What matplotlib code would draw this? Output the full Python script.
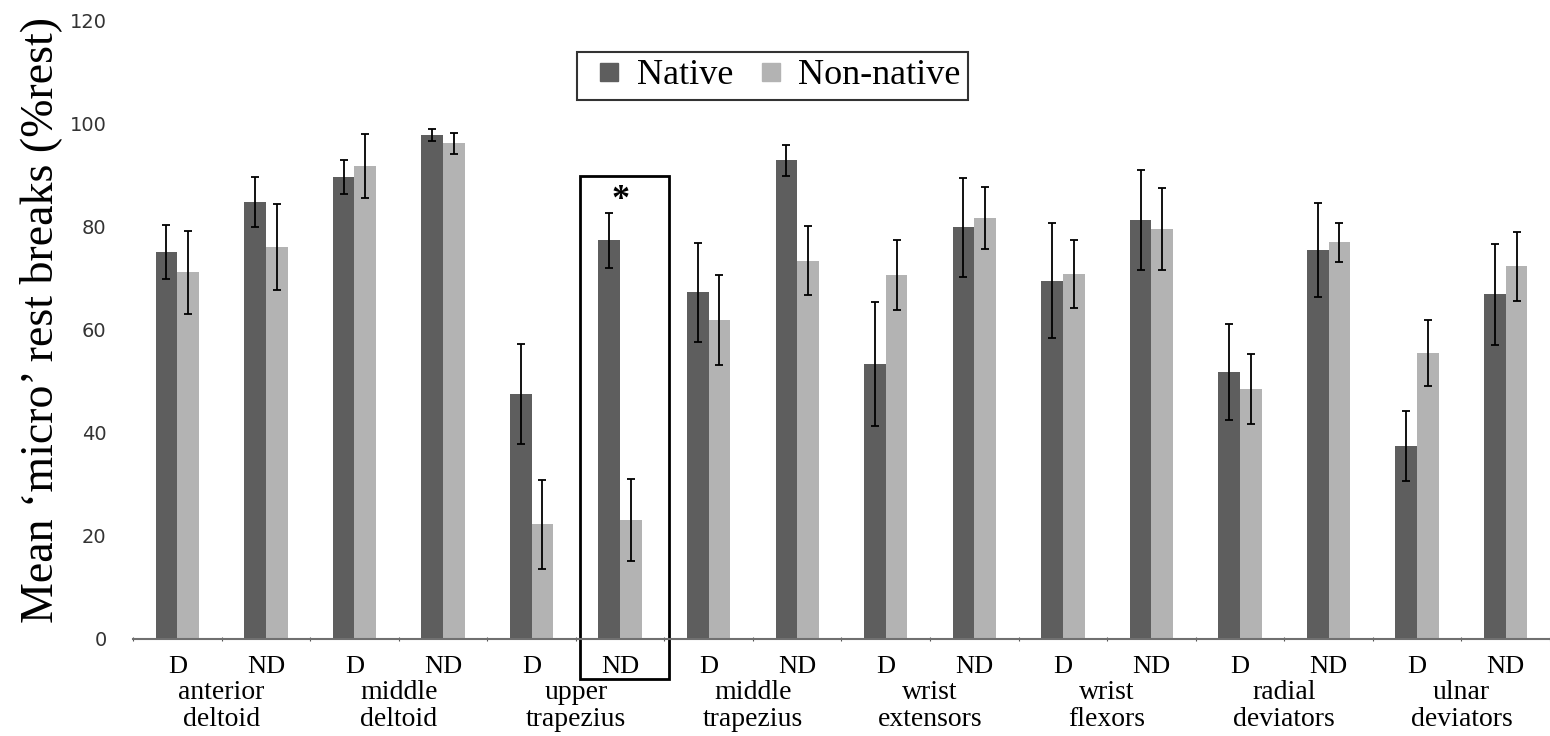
import numpy as np
import matplotlib
matplotlib.use("Agg")
import matplotlib.pyplot as plt
from matplotlib.patches import Rectangle
from matplotlib.legend_handler import HandlerPatch
from matplotlib.transforms import blended_transform_factory

# Daten
muscles = ["anterior\ndeltoid", "middle\ndeltoid", "upper\ntrapezius", "middle\ntrapezius",
           "wrist\nextensors", "wrist\nflexors", "radial\ndeviators", "ulnar\ndeviators"]
sides = ["D", "ND"] * 8

native = [75.0, 84.7, 89.5, 97.7, 47.5, 77.3, 67.2, 92.8,
          53.3, 79.8, 69.5, 81.2, 51.7, 75.4, 37.4, 66.8]
native_err = [5.2, 4.8, 3.3, 1.1, 9.7, 5.3, 9.6, 3.0,
              12.0, 9.6, 11.2, 9.7, 9.3, 9.1, 6.8, 9.8]
nonnative = [71.1, 76.0, 91.7, 96.1, 22.2, 23.1, 61.9, 73.3,
             70.5, 81.6, 70.8, 79.5, 48.4, 76.9, 55.5, 72.3]
nonnative_err = [8.0, 8.3, 6.2, 2.0, 8.6, 8.0, 8.7, 6.7,
                 6.8, 6.0, 6.6, 7.9, 6.8, 3.8, 6.4, 6.7]

highlight = 5  # upper trapezius ND (signifikant)

serif = "Liberation Serif"
c_native, c_non = "#5e5e5e", "#b3b3b3"


def small_square(legend, orig_handle, xdescent, ydescent, width, height, fontsize):
    # kleines Quadrat rechts im Handle-Feld (wie bei Excel)
    return Rectangle((-xdescent + width - height, -ydescent), height, height)


fig = plt.figure(figsize=(15.5, 7.36), dpi=100)
ax = fig.add_axes([0.0858, 0.1318, 0.9142, 0.841])

x = np.arange(len(sides))
w = 0.245
ebk = dict(ecolor="black", elinewidth=1.3, capsize=3, capthick=1.3)
ax.bar(x - w / 2, native, w, yerr=native_err, color=c_native, error_kw=ebk)
ax.bar(x + w / 2, nonnative, w, yerr=nonnative_err, color=c_non, error_kw=ebk)

ax.set_xlim(-0.5, len(sides) - 0.5)
ax.set_ylim(0, 120)
ax.set_yticks(np.arange(0, 121, 20))
ax.tick_params(axis="y", length=0, pad=19, labelsize=14, labelcolor="#333333")
for t in ax.get_yticklabels():
    t.set_family("DejaVu Sans")

# Achse unten: Teilstriche an den Kategoriegrenzen, D/ND in der Mitte
ax.set_xticks(np.arange(-0.5, len(sides), 1.0))
ax.set_xticklabels([])
ax.set_xticks(x, minor=True)
ax.set_xticklabels(sides, minor=True, family=serif, fontsize=19)
ax.tick_params(axis="x", which="major", length=3, direction="inout", color="#555555")
ax.tick_params(axis="x", which="minor", length=0, pad=12)

for s in ["left", "right", "top"]:
    ax.spines[s].set_visible(False)
ax.spines["bottom"].set_color("#707070")
ax.spines["bottom"].set_linewidth(1.5)

trans = blended_transform_factory(ax.transData, ax.transAxes)
for i, m in enumerate(muscles):
    ax.text(2 * i + 0.5, -0.066, m, transform=trans, ha="center", va="top",
            family=serif, fontsize=20, linespacing=1.1)

ax.set_ylabel("Mean \u2018micro\u2019 rest breaks (%rest)", family=serif, fontsize=33)
ax.yaxis.set_label_coords(-0.050, 0.515)

# Rahmen und Stern
ax.add_patch(Rectangle((highlight - 0.45, -7.8), 1.0, 97.5, fill=False,
                       edgecolor="black", linewidth=2, clip_on=False))
ax.text(highlight, native[highlight] + native_err[highlight] + 2.5, "*",
        ha="center", va="center", fontsize=26, family=serif, fontweight="bold")

handles = [Rectangle((0, 0), 1, 1, color=c_native), Rectangle((0, 0), 1, 1, color=c_non)]
leg = ax.legend(handles, ["Native", "Non-native"],
                loc="upper left", bbox_to_anchor=(0.3133, 0.948), borderaxespad=0, ncol=2,
                prop={"family": serif, "size": 26}, frameon=True, fancybox=False,
                handlelength=0.95, handleheight=0.39, handletextpad=0.5,
                columnspacing=0.36, borderpad=0.2,
                handler_map={Rectangle: HandlerPatch(patch_func=small_square)})
leg.get_frame().set_edgecolor("black")
leg.get_frame().set_linewidth(1.5)

fig.savefig("out.png", dpi=100)
